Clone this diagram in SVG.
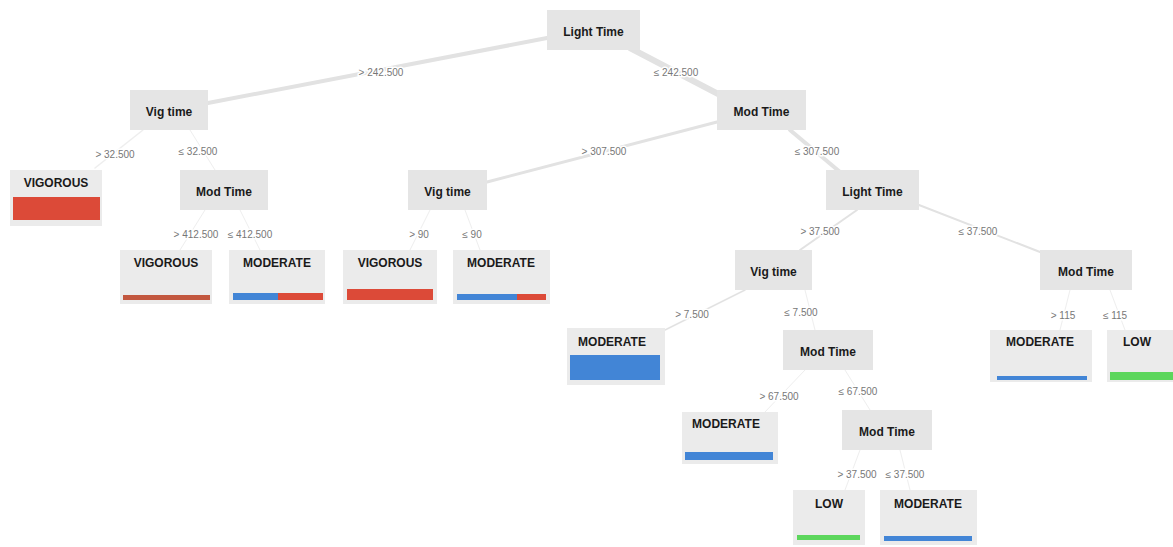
<svg xmlns="http://www.w3.org/2000/svg" width="1173" height="547" viewBox="0 0 1173 547">
<style>
.node rect.box{fill:#e5e5e5}
.leaf rect.box{fill:#ebebeb}
.t{font-family:"Liberation Sans",Arial,sans-serif;font-size:12px;font-weight:bold;fill:#1a1a1a;text-anchor:middle}
.lbl{font-family:"Liberation Sans",Arial,sans-serif;font-size:10px;fill:#777;text-anchor:middle;stroke:#fff;stroke-width:3px;paint-order:stroke}
.e{stroke:#e2e2e2;fill:none;stroke-linecap:round}
.f{stroke:#eeeeee}
.red{fill:#dc4a38}
.blue{fill:#4285d6}
.green{fill:#5cd65c}
</style>
<rect width="1173" height="547" fill="#fff"/>
<g id="connectors">
<line class="e" x1="547" y1="38" x2="208" y2="103" stroke-width="4"/>
<line class="e" x1="630" y1="48" x2="722" y2="96" stroke-width="6"/>
<line class="e f" x1="143" y1="130" x2="95" y2="168" stroke-width="1.5"/>
<line class="e f" x1="190" y1="130" x2="215" y2="170" stroke-width="1"/>
<line class="e" x1="717" y1="122" x2="487" y2="182" stroke-width="3"/>
<line class="e" x1="790" y1="130" x2="840" y2="172" stroke-width="4"/>
<line class="e f" x1="205" y1="210" x2="180" y2="250" stroke-width="1"/>
<line class="e f" x1="240" y1="210" x2="260" y2="250" stroke-width="1"/>
<line class="e f" x1="430" y1="210" x2="410" y2="250" stroke-width="1"/>
<line class="e f" x1="465" y1="210" x2="480" y2="250" stroke-width="1"/>
<line class="e" x1="857" y1="210" x2="800" y2="250" stroke-width="2"/>
<line class="e" x1="919" y1="205" x2="1040" y2="252" stroke-width="2"/>
<line class="e" x1="745" y1="290" x2="665" y2="330" stroke-width="1.5"/>
<line class="e f" x1="805" y1="290" x2="815" y2="330" stroke-width="1"/>
<line class="e f" x1="1070" y1="290" x2="1060" y2="330" stroke-width="1"/>
<line class="e f" x1="1110" y1="290" x2="1125" y2="330" stroke-width="1"/>
<line class="e f" x1="805" y1="370" x2="765" y2="412" stroke-width="1"/>
<line class="e f" x1="845" y1="370" x2="870" y2="410" stroke-width="1"/>
<line class="e f" x1="860" y1="450" x2="845" y2="490" stroke-width="1"/>
<line class="e f" x1="900" y1="450" x2="910" y2="490" stroke-width="1"/>
<text class="lbl" x="381" y="76">&gt; 242.500</text>
<text class="lbl" x="676" y="76">≤ 242.500</text>
<text class="lbl" x="115" y="158">&gt; 32.500</text>
<text class="lbl" x="198" y="155">≤ 32.500</text>
<text class="lbl" x="604" y="155">&gt; 307.500</text>
<text class="lbl" x="817" y="155">≤ 307.500</text>
<text class="lbl" x="196" y="238">&gt; 412.500</text>
<text class="lbl" x="250" y="238">≤ 412.500</text>
<text class="lbl" x="419" y="238">&gt; 90</text>
<text class="lbl" x="472" y="238">≤ 90</text>
<text class="lbl" x="820" y="235">&gt; 37.500</text>
<text class="lbl" x="978" y="235">≤ 37.500</text>
<text class="lbl" x="1063" y="319">&gt; 115</text>
<text class="lbl" x="1115" y="319">≤ 115</text>
<text class="lbl" x="692" y="318">&gt; 7.500</text>
<text class="lbl" x="801" y="316">≤ 7.500</text>
<text class="lbl" x="779" y="400">&gt; 67.500</text>
<text class="lbl" x="858" y="395">≤ 67.500</text>
<text class="lbl" x="857" y="478">&gt; 37.500</text>
<text class="lbl" x="905" y="478">≤ 37.500</text>
</g>
<g id="n0" class="node"><rect class="box" x="547" y="10" width="93" height="40"/><text class="t" x="593.5" y="36">Light Time</text></g>
<g id="n1" class="node"><rect class="box" x="130" y="90" width="78" height="40"/><text class="t" x="169" y="116">Vig time</text></g>
<g id="n2" class="node"><rect class="box" x="717" y="90" width="89" height="40"/><text class="t" x="761.5" y="116">Mod Time</text></g>
<g id="n3" class="leaf"><rect class="box" x="10" y="170" width="92" height="56"/><text class="t" x="56" y="187">VIGOROUS</text><rect class="red" x="13" y="197" width="87" height="23"/></g>
<g id="n4" class="node"><rect class="box" x="180" y="170" width="88" height="40"/><text class="t" x="224" y="196">Mod Time</text></g>
<g id="n5" class="node"><rect class="box" x="408" y="170" width="79" height="40"/><text class="t" x="447.5" y="196">Vig time</text></g>
<g id="n6" class="node"><rect class="box" x="826" y="170" width="93" height="40"/><text class="t" x="872.5" y="196">Light Time</text></g>
<g id="n7" class="leaf"><rect class="box" x="120" y="250" width="92" height="54"/><text class="t" x="166" y="267">VIGOROUS</text><rect fill="#c2573f" x="123" y="295" width="87" height="5"/></g>
<g id="n8" class="leaf"><rect class="box" x="229" y="250" width="96" height="54"/><text class="t" x="277" y="267">MODERATE</text><rect class="blue" x="233" y="293" width="45" height="7"/><rect class="red" x="278" y="293" width="45" height="7"/></g>
<g id="n9" class="leaf"><rect class="box" x="343" y="250" width="94" height="54"/><text class="t" x="390" y="267">VIGOROUS</text><rect class="red" x="347" y="289" width="86" height="11"/></g>
<g id="n10" class="leaf"><rect class="box" x="453" y="250" width="97" height="54"/><text class="t" x="501" y="267">MODERATE</text><rect class="blue" x="457" y="294" width="60" height="6"/><rect class="red" x="517" y="294" width="29" height="6"/></g>
<g id="n11" class="node"><rect class="box" x="735" y="250" width="77" height="40"/><text class="t" x="773.5" y="276">Vig time</text></g>
<g id="n12" class="node"><rect class="box" x="1040" y="250" width="92" height="40"/><text class="t" x="1086" y="276">Mod Time</text></g>
<g id="n13" class="leaf"><rect class="box" x="567" y="328" width="98" height="57"/><text class="t" x="612" y="346">MODERATE</text><rect class="blue" x="570" y="355" width="90" height="25"/></g>
<g id="n14" class="node"><rect class="box" x="783" y="330" width="90" height="40"/><text class="t" x="828" y="356">Mod Time</text></g>
<g id="n15" class="leaf"><rect class="box" x="990" y="330" width="102" height="52"/><text class="t" x="1040" y="346">MODERATE</text><rect class="blue" x="997" y="376" width="90" height="4"/></g>
<g id="n16" class="leaf"><rect class="box" x="1107" y="330" width="66" height="52"/><text class="t" x="1137" y="346">LOW</text><rect class="green" x="1110" y="372" width="63" height="8"/></g>
<g id="n17" class="leaf"><rect class="box" x="682" y="412" width="96" height="52"/><text class="t" x="726" y="428">MODERATE</text><rect class="blue" x="685" y="452" width="88" height="8"/></g>
<g id="n18" class="node"><rect class="box" x="842" y="410" width="90" height="40"/><text class="t" x="887" y="436">Mod Time</text></g>
<g id="n19" class="leaf"><rect class="box" x="793" y="490" width="72" height="55"/><text class="t" x="829" y="508">LOW</text><rect class="green" x="797" y="535" width="63" height="5"/></g>
<g id="n20" class="leaf"><rect class="box" x="880" y="490" width="97" height="55"/><text class="t" x="928" y="508">MODERATE</text><rect class="blue" x="884" y="536" width="88" height="5"/></g>
</svg>
